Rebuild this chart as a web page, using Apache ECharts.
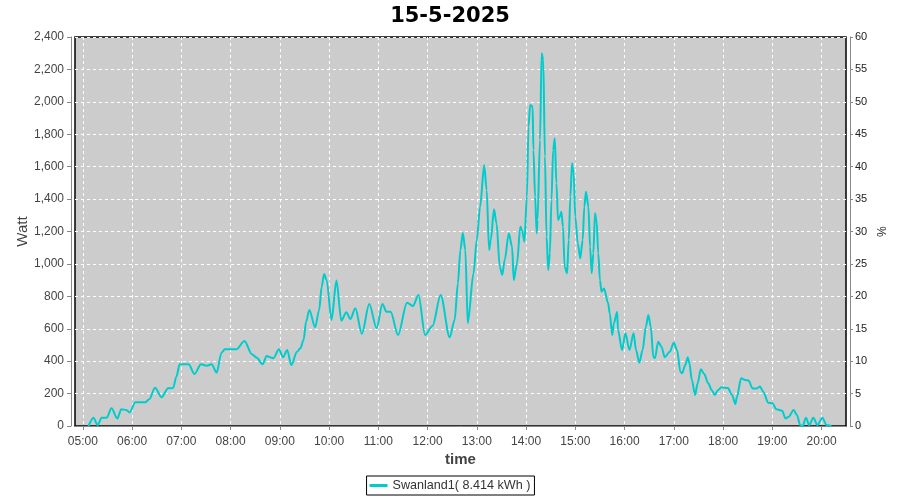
<!DOCTYPE html>
<html><head><meta charset="utf-8">
<script src="https://cdn.jsdelivr.net/npm/echarts@6/dist/echarts.min.js"></script>
<style>html,body{margin:0;padding:0;background:#fff}#c{width:900px;height:500px}</style>
</head><body><div id="c"></div>
<script>
const title = '15-5-2025';
const seriesName = 'Swanland1( 8.414 kWh )';
const times = ['05:07','05:13','05:18','05:23','05:29','05:35','05:42','05:47','05:53','05:57',
'06:04','06:16','06:21','06:28','06:36','06:44','06:50','06:54','06:58','07:09','07:16','07:24','07:31','07:37','07:43','07:49','07:53',
'08:07','08:17','08:26','08:32','08:39','08:44','08:50','08:52','08:59','09:04','09:09','09:14','09:21','09:25','09:29','09:32','09:36','09:43','09:48','09:51','09:54','09:57',
'10:03','10:09','10:15','10:21','10:26','10:32','10:40','10:49','10:58','11:05','11:10','11:15','11:24','11:35','11:42','11:49','11:57',
'12:06','12:16','12:27','12:33','12:37','12:40','12:43','12:46','12:49','12:56','13:00','13:04','13:09','13:12','13:15','13:17','13:21','13:24','13:28','13:31','13:34','13:39','13:43','13:45','13:49','13:53','13:55','13:58',
'14:01','14:03','14:05','14:08','14:09','14:11','14:13','14:14','14:17','14:19','14:21','14:23','14:25','14:27','14:29','14:31','14:33','14:35','14:37','14:39','14:41','14:43','14:45','14:47','14:50','14:52','14:54','14:56','14:58',
'15:00','15:03','15:06','15:09','15:11','15:13','15:16','15:18','15:20','15:22','15:24','15:26','15:28','15:30','15:32','15:35','15:40','15:42','15:45','15:47','15:51','15:52','15:57',
'16:01','16:06','16:11','16:14','16:18','16:22','16:26','16:29','16:32','16:35','16:37','16:41','16:45','16:49','16:55',
'17:00','17:04','17:08','17:10','17:14','17:17','17:19','17:22','17:26','17:29','17:33','17:37','17:42','17:46','17:50','17:54','17:58',
'18:06','18:11','18:15','18:17','18:22','18:27','18:31','18:36','18:41','18:45','18:49','18:55',
'19:00','19:05','19:12','19:16','19:20','19:26','19:30','19:34','19:37','19:41','19:45','19:50','19:55','20:01','20:06','20:12'];
const watts = [0,51,6,51,51,109,47,103,99,84,
146,146,165,236,177,233,234,304,381,381,321,381,372,381,329,452,473,
473,524,442,421,381,432,421,418,473,424,469,376,458,479,531,643,716,609,716,859,938,901,
654,897,650,702,660,726,568,753,603,753,705,705,561,761,740,808,561,
617,808,547,654,880,1086,1191,1086,634,942,1148,1353,1610,1456,1086,1148,1337,1251,983,932,1024,1189,1106,901,1004,1230,1209,1137,
1415,1847,1981,1970,1703,1415,1189,1271,1765,2300,2258,1662,1168,963,1066,1394,1703,1775,1498,1271,1291,1322,1230,983,942,1148,1415,1621,1559,
1291,1127,1035,1148,1353,1446,1353,1106,942,1066,1312,1260,1066,901,829,849,757,695,561,634,705,592,469,
572,469,572,469,391,469,613,685,613,428,418,520,489,424,458,
514,469,335,325,376,424,387,284,191,263,350,321,263,222,191,222,239,
234,191,136,181,294,284,280,232,232,243,212,144,
140,103,94,47,57,99,68,6,0,51,6,51,6,51,6,0];
const hourTicks = [5,6,7,8,9,10,11,12,13,14,15,16,17,18,19,20];
const wattMax = 2400, wattStep = 200;
const pctMax = 60, pctStep = 5;

function toHours(s){const p=s.split(':');return +p[0]+(+p[1])/60;}
const data = times.map((t,i)=>[toHours(t), watts[i]]);

const chart = echarts.init(document.getElementById('c'), null, {renderer:'canvas'});
const lab = {fontFamily:'Liberation Sans', fontSize:12, color:'#444'};
chart.setOption({
  animation:false,
  backgroundColor:'#fff',
  title:{text:title, left:'center', top:1, textStyle:{fontFamily:'DejaVu Sans', fontWeight:'bold', fontSize:21, color:'#000'}},
  grid:{left:75, right:54, top:37, bottom:74, show:true, backgroundColor:'#CCCCCC', borderColor:'#000', borderWidth:1.5},
  legend:{show:true, left:'center', top:476, data:[seriesName], icon:'rect', itemWidth:18, itemHeight:3,
    borderColor:'#000', borderWidth:1, padding:[3,4,3,3], itemGap:4,
    textStyle:{fontFamily:'Liberation Sans', fontSize:12.6, color:'#333'}},
  xAxis:{type:'value', min:4.8416, max:20.4966, offset:4,
    name:'time', nameLocation:'middle', nameGap:22, nameMoveOverlap:false,
    nameTextStyle:{fontFamily:'Liberation Sans', fontSize:15, fontWeight:'bold', color:'#444'},
    axisLine:{show:true, lineStyle:{color:'#888', width:1}},
    axisTick:{show:true, length:4, lineStyle:{color:'#888'}, customValues:hourTicks},
    axisLabel:Object.assign({customValues:hourTicks, margin:6, formatter:v=>(v<10?'0':'')+v+':00'}, lab),
    splitLine:{show:true, lineStyle:{color:'#fff', type:[3,3], width:1}}},
  yAxis:[{type:'value', min:0, max:wattMax, interval:wattStep, offset:4, position:'left',
    name:'Watt', nameLocation:'middle', nameGap:41, nameMoveOverlap:false,
    nameTextStyle:{fontFamily:'Liberation Sans', fontSize:15, color:'#444'},
    axisLine:{show:true, lineStyle:{color:'#888'}},
    axisTick:{show:true, length:4, lineStyle:{color:'#888'}},
    axisLabel:Object.assign({margin:7, formatter:v=>v.toLocaleString('en-US')}, lab),
    splitLine:{show:true, lineStyle:{color:'#fff', type:[3,3], width:1}}},
   {type:'value', min:0, max:pctMax, interval:pctStep, offset:4, position:'right',
    name:'%', nameLocation:'middle', nameGap:24, nameRotate:-90, nameMoveOverlap:false,
    nameTextStyle:{fontFamily:'Liberation Sans', fontSize:12, color:'#222'},
    axisLine:{show:true, lineStyle:{color:'#888'}},
    axisTick:{show:true, length:3, lineStyle:{color:'#888'}},
    axisLabel:{margin:5, fontFamily:'Liberation Sans', fontSize:11, color:'#222'},
    splitLine:{show:false}}],
  series:[{name:seriesName, type:'line', xAxisIndex:0, yAxisIndex:0, data:data,
    showSymbol:false, smooth:0.3, smoothMonotone:'x',
    lineStyle:{color:'#00CCCC', width:2}, itemStyle:{color:'#00CCCC'}}]
});
</script></body></html>
